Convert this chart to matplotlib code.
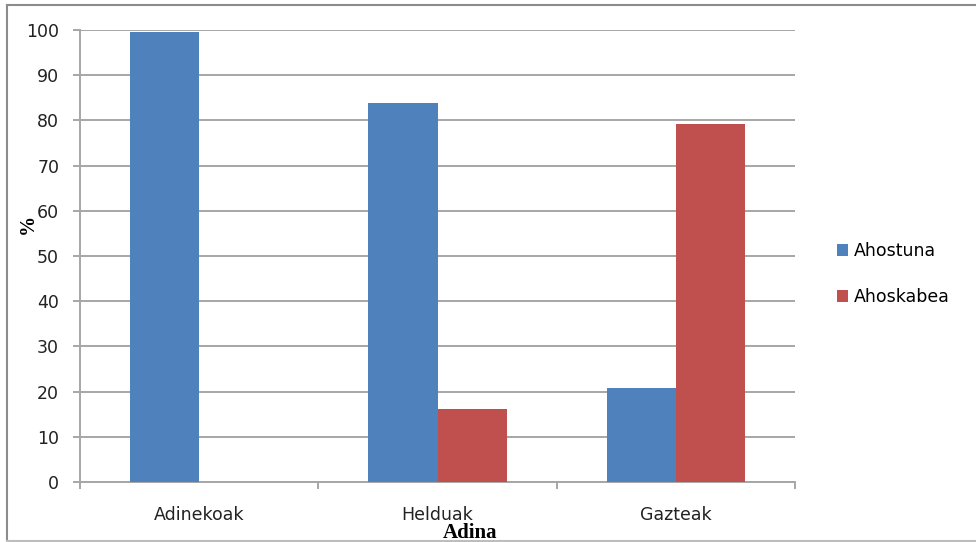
import matplotlib
matplotlib.use('Agg')
import matplotlib.pyplot as plt
from matplotlib.lines import Line2D
from matplotlib.patches import Patch
import numpy as np

# age groups and share of each answer (%)
categories = ['Adinekoak', 'Helduak', 'Gazteak']
ahostuna = [99.5, 83.9, 20.9]
ahoskabea = [0, 16.1, 79.1]
series_names = ['Ahostuna', 'Ahoskabea']
yticks = [0, 10, 20, 30, 40, 50, 60, 70, 80, 90, 100]

blue = '#4F81BD'
red = '#C0504D'
grid_col = '#a6a6a6'

fig = plt.figure(figsize=(9.76, 5.42), dpi=100)
ax = fig.add_axes([80/976, 1-482/542, (795-80)/976, (482-30)/542])

x = np.arange(len(categories))
w = 0.29
ax.bar(x - w/2, ahostuna, w, color=blue, zorder=3)
ax.bar(x + w/2, ahoskabea, w, color=red, zorder=3)

ax.set_xlim(-0.5, 2.5)
ax.set_ylim(0, 100)
ax.set_yticks(yticks)
ax.set_yticklabels([str(v) for v in yticks], fontsize=12.5, color='#222222')
ax.yaxis.grid(True, color=grid_col, linewidth=1.4, zorder=0)
ax.set_axisbelow(True)

ax.set_xticks(x)
ax.set_xticklabels(categories, fontsize=12.5, color='#222222')
ax.set_xticks(np.arange(-0.5, 3, 1), minor=True)
ax.tick_params(axis='x', which='major', length=0, pad=17)
ax.tick_params(axis='x', which='minor', length=5, width=1.4, color=grid_col, direction='out')
ax.tick_params(axis='y', length=5, width=1.4, color=grid_col, direction='out', pad=10)

for s in ['top', 'right']:
    ax.spines[s].set_visible(False)
for s in ['left', 'bottom']:
    ax.spines[s].set_color(grid_col)
    ax.spines[s].set_linewidth(1.4)

fig.text(28/976, 1-224/542, '%', rotation=90, ha='center', va='center',
         fontsize=14.5, fontweight='bold', family='Liberation Serif')
fig.text(470/976, 1-533/542, 'Adina', ha='center', va='center',
         fontsize=15, fontweight='bold', family='Liberation Serif')

handles = [Patch(facecolor=blue), Patch(facecolor=red)]
fig.legend(handles, series_names, loc='center left', bbox_to_anchor=(821/976, 1-274/542),
           frameon=False, fontsize=12.5, handlelength=0.65, handleheight=0.65,
           handletextpad=0.35, labelspacing=1.6)

# outer chart frame
fig.add_artist(Line2D([7/976, 7/976], [1-540.5/542, 1-4.5/542], color='#8c8c8c', lw=1.5))
fig.add_artist(Line2D([7/976, 1], [1-4.5/542, 1-4.5/542], color='#8c8c8c', lw=1.5))
fig.add_artist(Line2D([7/976, 1], [1-540.5/542, 1-540.5/542], color='#bdbdbd', lw=1.5))

fig.savefig('out.png', dpi=100)
